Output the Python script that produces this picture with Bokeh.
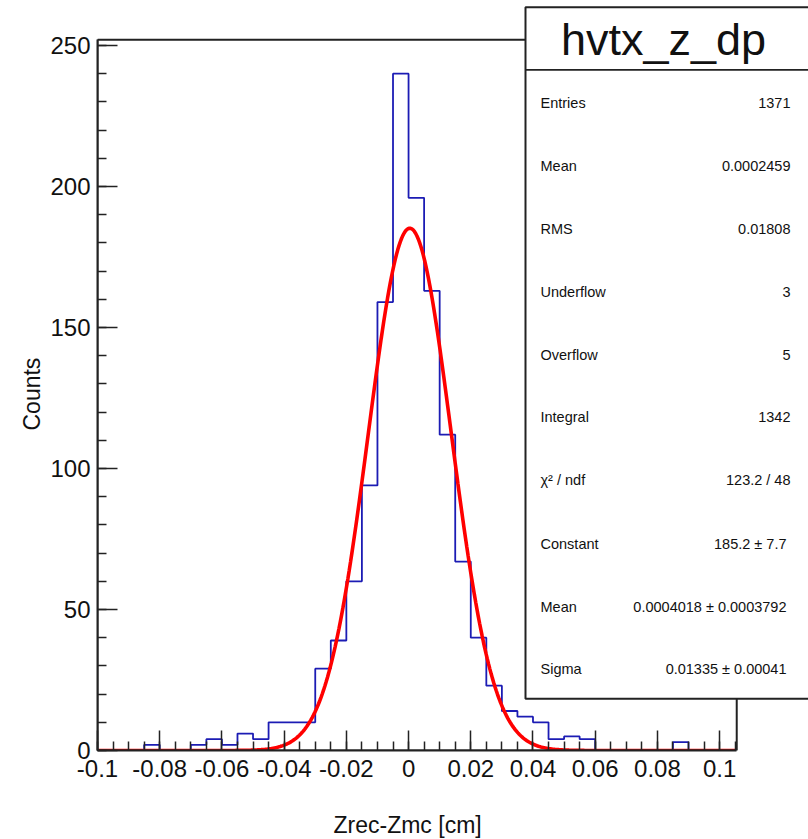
import numpy as np
from bokeh.plotting import figure
from bokeh.models import Range1d, FixedTicker, BoxAnnotation, Label, Title
from bokeh.embed import file_html
from bokeh.resources import INLINE

# ---------------- data ----------------
bin_low = -0.1
bin_width = 0.005
counts = [0, 0, 0, 2, 0, 0, 2, 4, 2, 6, 4, 10, 10, 10, 29, 39, 60, 94, 159, 240,
          196, 163, 112, 67, 40, 23, 14, 12, 10, 4, 5, 4, 0, 0, 0, 0, 0, 3, 0, 0, 0]

fit_constant = 185.2
fit_mean = 0.0004018
fit_sigma = 0.01335

x_ticks = [-0.1, -0.08, -0.06, -0.04, -0.02, 0.0, 0.02, 0.04, 0.06, 0.08, 0.1]
x_tick_labels = ["-0.1", "-0.08", "-0.06", "-0.04", "-0.02", "0", "0.02", "0.04", "0.06", "0.08", "0.1"]
x_minor = [round(-0.1 + 0.005 * i, 4) for i in range(42)]
y_ticks = [0, 50, 100, 150, 200, 250]
y_minor = list(range(0, 251, 10))

title_text = "hvtx_z_dp"
x_title = "Zrec-Zmc [cm]"
y_title = "Counts"
stats_names = ["Entries", "Mean", "RMS", "Underflow", "Overflow", "Integral",
               "\u03c7\u00b2 / ndf", "Constant", "Mean", "Sigma"]
stats_values = ["1371", "0.0002459", "0.01808", "3", "5", "1342", "123.2 / 48",
                "185.2  \u00b1 7.7", "0.0004018  \u00b1 0.0003792", "0.01335  \u00b1 0.00041"]

# ---------------- layout ----------------
W, H = 808, 839
LEFT, BOTTOM = 97, 89
XS = 3110.6   # px per x unit
YS = 2.82     # px per count
x_lo = -0.1
x_hi = x_lo + (W - LEFT) / XS
y_top = (H - BOTTOM) / YS
frame_right = 0.1055
frame_top = 252.0


def fx(px):  # page pixel -> data x
    return x_lo + (px - LEFT) / XS


def fy(py):  # page pixel -> data y
    return (H - BOTTOM - py) / YS


FONT = "Liberation Sans"

p = figure(width=W, height=H, output_backend="svg", toolbar_location=None,
           x_range=Range1d(x_lo, x_hi), y_range=Range1d(0, y_top),
           min_border_left=LEFT, min_border_right=0, min_border_top=0,
           min_border_bottom=BOTTOM)
p.outline_line_color = None
p.xgrid.visible = False
p.ygrid.visible = False
p.background_fill_color = "white"
p.border_fill_color = "white"

# histogram
edges = [round(bin_low + i * bin_width, 4) for i in range(len(counts) + 1)]
p.step(x=edges, y=counts + [counts[-1]], mode="after", line_color="#1c1cb4", line_width=1.8)

# fit curve
xf = np.linspace(edges[0], edges[-1], 500)
yf = fit_constant * np.exp(-0.5 * ((xf - fit_mean) / fit_sigma) ** 2)
p.line(xf, yf, line_color="#ff0000", line_width=3.6)

# axes
for ax in (p.xaxis[0], p.yaxis[0]):
    ax.axis_line_width = 2
    ax.axis_line_color = "#222222"
    ax.major_tick_line_color = "#222222"
    ax.minor_tick_line_color = "#222222"
    ax.major_tick_line_width = 1.5
    ax.minor_tick_line_width = 1.5
    ax.major_tick_in = 20
    ax.major_tick_out = 0
    ax.minor_tick_in = 9
    ax.minor_tick_out = 0
    ax.major_label_text_font = FONT
    ax.major_label_text_font_size = "24px"
    ax.major_label_text_color = "#111111"

p.xaxis.bounds = (x_lo, frame_right)
p.yaxis.bounds = (0, frame_top)
p.xaxis.ticker = FixedTicker(ticks=x_ticks, minor_ticks=x_minor)
p.xaxis.major_label_overrides = {t: l for t, l in zip(x_ticks, x_tick_labels)}
p.yaxis.ticker = FixedTicker(ticks=y_ticks, minor_ticks=y_minor)
p.xaxis.major_label_standoff = 9
p.yaxis.major_label_standoff = 7

# axis titles as side titles, offset to centre on the drawn frame
p.add_layout(Title(text=" ", standoff=17, text_font=FONT, text_font_size="10px",
                   text_color="white"), "below")
p.add_layout(Title(text=x_title, align="left", offset=236, standoff=0,
                   text_font=FONT, text_font_size="23px", text_font_style="normal",
                   text_color="#111111"), "below")
p.add_layout(Title(text=y_title, align="left", offset=320, standoff=6,
                   text_font=FONT, text_font_size="23px", text_font_style="normal",
                   text_color="#111111"), "left")

# frame
p.add_layout(BoxAnnotation(left=x_lo, right=frame_right, bottom=0, top=frame_top,
                           fill_color=None, fill_alpha=0, line_color="#222222",
                           line_width=2, line_alpha=1))

# stats box
p.add_layout(BoxAnnotation(left=fx(525), right=fx(830), bottom=fy(698.3), top=fy(6.7),
                           fill_color="white", fill_alpha=1, line_color="#222222",
                           line_width=2, line_alpha=1))
p.add_layout(BoxAnnotation(left=fx(525), right=fx(830), bottom=fy(70.2), top=fy(68.6),
                           fill_color="#222222", fill_alpha=1, line_color=None))

p.add_layout(Label(x=fx(663), y=fy(39), text=title_text, text_align="center",
                   text_baseline="middle", text_font=FONT, text_font_size="45px",
                   text_color="#111111"))

row_y = [102, 165, 228, 291, 354, 416, 479, 543, 606, 668]
for name, val, ry in zip(stats_names, stats_values, row_y):
    p.add_layout(Label(x=fx(540), y=fy(ry), text=name, text_align="left",
                       text_baseline="middle", text_font=FONT, text_font_size="14.5px",
                       text_color="#111111"))
    p.add_layout(Label(x=fx(790), y=fy(ry), text=val, text_align="right",
                       text_baseline="middle", text_font=FONT, text_font_size="14.5px",
                       text_color="#111111"))

open("out.html", "w").write(file_html(p, INLINE))
